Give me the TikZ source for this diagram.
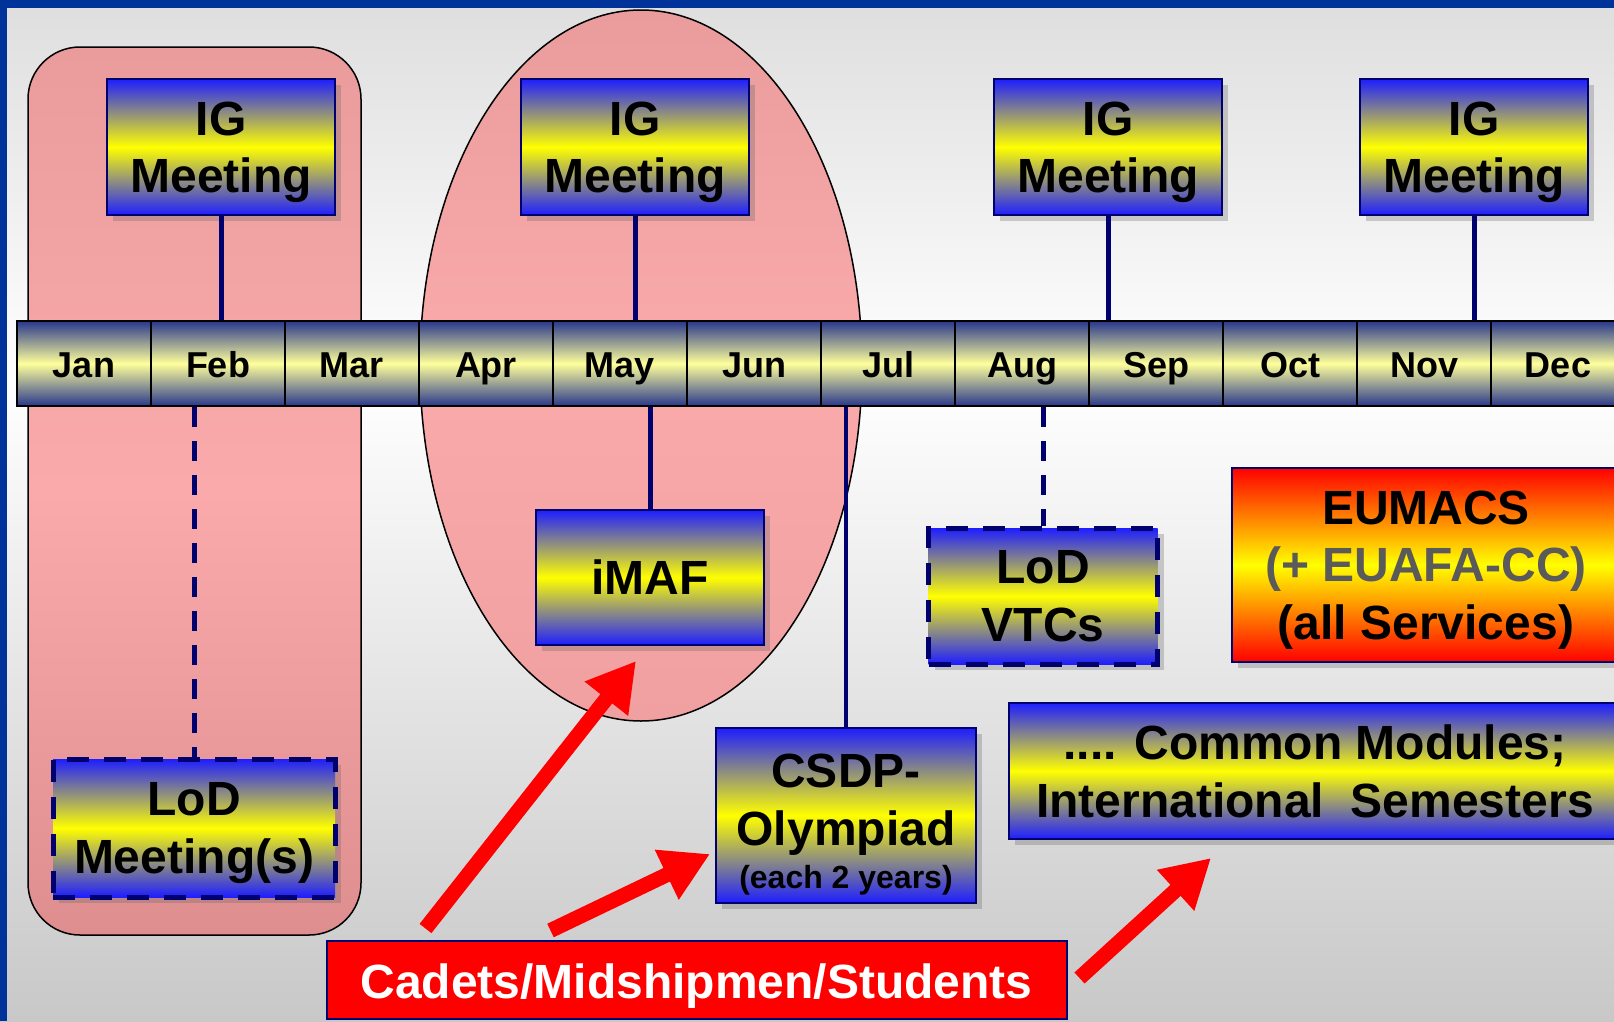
\documentclass[tikz,border=0pt]{standalone}
\usepackage{fontspec}
\setmainfont{Liberation Sans}
\usepackage{xcolor}
\usetikzlibrary{arrows.meta,shadows}

\definecolor{navy}{RGB}{0,0,110}
\definecolor{frameblue}{RGB}{0,51,153}
\definecolor{boxblue}{RGB}{30,30,255}
\definecolor{celltop}{RGB}{40,55,140}
\definecolor{cellmid}{RGB}{255,255,155}
\definecolor{pinktop}{RGB}{234,156,156}
\definecolor{pinkmid}{RGB}{250,170,170}
\definecolor{pinkbot}{RGB}{222,142,142}
\definecolor{pinklow}{RGB}{240,160,160}
\definecolor{bgtop}{RGB}{222,222,222}
\definecolor{bgbot}{RGB}{200,200,200}
\definecolor{graytext}{RGB}{90,90,90}

\newcommand{\bigfont}{\fontsize{48}{57.5}\selectfont\bfseries}

\begin{document}
\begin{tikzpicture}[x=1pt,y=-1pt,
  event/.style={draw=navy, line width=2pt, top color=boxblue, bottom color=boxblue,
    middle color=yellow, drop shadow={shadow xshift=6pt, shadow yshift=-6pt, fill=black!60, opacity=.3},
    align=center, font=\bigfont, inner sep=0pt, text depth=0pt, minimum width=228pt, minimum height=136pt},
  lodbox/.style={event, line width=5pt, dash pattern=on 22pt off 15pt},
  month/.style={draw=black, line width=2.5pt, top color=celltop, bottom color=celltop,
    middle color=cellmid, minimum width=134pt, minimum height=85pt, inner sep=0pt,
    text height=27pt, text depth=0pt, font=\fontsize{36}{40}\selectfont\bfseries},
  group/.style={draw=black, line width=1.5pt, top color=pinktop, bottom color=pinkbot, middle color=pinkmid},
  link/.style={draw=navy, line width=5pt},
  dlink/.style={link, dash pattern=on 20pt off 14pt},
  redarrow/.style={draw=red, line width=15pt, -{Triangle[length=48pt,width=52pt]}}]
\useasboundingbox (0,0) rectangle (1614,1021);
% background and frame
\fill[top color=bgtop, bottom color=white] (0,0) rectangle (1614,380);
\fill[top color=white, bottom color=bgbot] (0,380) rectangle (1614,1021);
\fill[frameblue] (0,0) rectangle (1614,8);
\fill[frameblue] (0,0) rectangle (7,1021);

% highlighted periods
\draw[group, rounded corners=52pt] (28,47) rectangle (361,935);
\draw[group, bottom color=pinklow, middle color=pinkmid] (641,365.5) ellipse [x radius=221, y radius=355.5];

% months
\foreach \m [count=\i] in {Jan,Feb,Mar,Apr,May,Jun,Jul,Aug,Sep,Oct,Nov,Dec}
  \node[month] (\m) at (134*\i-50,363.5) {\m};

% events above
\node[event] (ig1) at (221,147) {IG\\Meeting};
\node[event] (ig2) at (635,147) {IG\\Meeting};
\node[event] (ig3) at (1108,147) {IG\\Meeting};
\node[event] (ig4) at (1474,147) {IG\\Meeting};

% events below
\node[lodbox, minimum width=282pt, minimum height=138pt] (lod1) at (194,828) {LoD\\Meeting(s)};
\node[event, minimum height=135pt] (imaf) at (650,577.5) {iMAF};
\node[event, minimum width=260pt, minimum height=175pt] (csdp) at (846,815.5)
  {\rule{0pt}{45pt}CSDP-\\Olympiad\\[-14pt]{\fontsize{32}{36}\selectfont(each 2 years)}};
\node[lodbox, minimum width=229pt] (vtc) at (1043,596) {LoD\\VTCs};
\node[event, top color=red, bottom color=red, middle color=yellow, minimum width=388pt, minimum height=194pt]
  (eumacs) at (1426,565) {EUMACS\\\textcolor{graytext}{(+ EUAFA-CC)}\\(all Services)};
\node[event, minimum width=612pt] (common) at (1315,771)
  {.... Common Modules;\\International~~Semesters};
\node[draw=navy, line width=2pt, fill=red, text=white, font=\bigfont, inner sep=0pt,
  text height=38pt, text depth=0pt, minimum width=740pt, minimum height=78pt] (cadets) at (696.5,979.5) {Cadets/Midshipmen/Students};

% connectors
\draw[link] (ig1.south) -- (ig1.south |- Feb.north);
\draw[link] (ig2.south) -- (ig2.south |- May.north);
\draw[link] (ig3.south) -- (ig3.south |- Sep.north);
\draw[link] (ig4.south) -- (ig4.south |- Nov.north);
\draw[dlink] (lod1.north |- Feb.south) -- (lod1.north);
\draw[link] (imaf.north |- May.south) -- (imaf.north);
\draw[link, line width=4pt] (csdp.north |- Jul.south) -- (csdp.north);
\draw[dlink] (vtc.north |- Aug.south) -- (vtc.north);

% students
\draw[redarrow] ([xshift=100pt,yshift=11pt]cadets.north west) -- ([xshift=-14pt,yshift=-15pt]imaf.south);
\draw[redarrow] ([xshift=225pt,yshift=9pt]cadets.north west) -- ([xshift=-5pt,yshift=-38.5pt]csdp.west);
\draw[redarrow] ([xshift=12pt,yshift=1.5pt]cadets.east) -- ([xshift=203pt,yshift=-18pt]common.south west);
\end{tikzpicture}
\end{document}
